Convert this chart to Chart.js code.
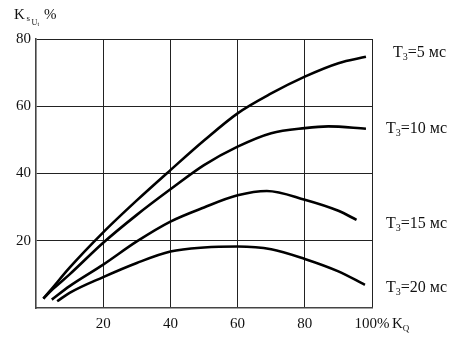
<!DOCTYPE html>
<html>
<head>
<meta charset="utf-8">
<script src="https://cdn.jsdelivr.net/npm/chart.js@4/dist/chart.umd.min.js"></script>
<style>
  html, body { margin: 0; padding: 0; background: #fff; }
  #wrap { width: 460px; height: 346px; position: relative; }
</style>
</head>
<body>
<div id="wrap"><canvas id="c" width="460" height="346"></canvas></div>
<script>
// Load factor K_Q, % (x) and coefficient K_sUt, % (y) for each time constant T3
const periodsMs = ['5', '10', '15', '20'];

const t5Q  = [2.2, 5, 10, 20, 30, 40, 50, 60, 70, 80, 90, 98.2];
const t5K  = [2.8, 6.1, 12, 22.5, 32, 41, 49.8, 57.9, 63.8, 68.8, 72.8, 74.7];

const t10Q = [2.2, 5, 10, 20, 30, 40, 50, 60, 70, 80, 87, 98.2];
const t10K = [2.8, 5.6, 10, 19.4, 27.7, 35.3, 42.5, 48, 52, 53.5, 54, 53.3];

const t15Q = [4.7, 10, 20, 30, 40, 50, 60, 68.7, 80, 90, 95.4];
const t15K = [2.5, 6.5, 12.9, 19.8, 25.7, 29.9, 33.5, 34.8, 32.2, 28.9, 26.2];

const t20Q = [6.3, 10, 20, 30, 40, 50, 60, 70, 80, 90, 97.9];
const t20K = [2.0, 4.5, 9.2, 13.4, 16.8, 18, 18.3, 17.5, 14.6, 10.9, 6.9];

const xTicks = [20, 40, 60, 80, 100];
const yTicks = [20, 40, 60, 80];

const serif = '"Liberation Serif", "Times New Roman", serif';

function pts(xs, ys) { return xs.map((x, i) => ({ x: x, y: ys[i] })); }

const curves = [pts(t5Q, t5K), pts(t10Q, t10K), pts(t15Q, t15K), pts(t20Q, t20K)];

// Labels on the right of each curve, positioned against the y scale
const labelY = [76, 53.5, 25.3, 6.3];

const textPlugin = {
  id: 'texts',
  afterDraw(chart) {
    const ctx = chart.ctx;
    const xs = chart.scales.x, ys = chart.scales.y;
    ctx.save();
    ctx.fillStyle = '#111';
    ctx.textBaseline = 'alphabetic';
    ctx.textAlign = 'left';

    // axis title K_sUt %
    ctx.font = '15px ' + serif;
    ctx.fillText('K', 14, 19);
    ctx.font = '9px ' + serif;
    ctx.fillText('s', 26.5, 21);
    ctx.font = '8px ' + serif;
    ctx.fillText('U', 31.5, 25);
    ctx.font = '6px ' + serif;
    ctx.fillText('t', 37.5, 26);
    ctx.font = '15px ' + serif;
    ctx.fillText('%', 44, 19);

    // K_Q after "100%"
    const bx = xs.getPixelForValue(100) + 20;
    const by = xs.top + 20;
    ctx.font = '15px ' + serif;
    ctx.fillText('K', bx, by);
    const kw = ctx.measureText('K').width;
    ctx.font = '9px ' + serif;
    ctx.fillText('Q', bx + kw, by + 3);

    // curve labels T3=… мс
    periodsMs.forEach((p, i) => {
      const x0 = i === 0 ? 393 : 386;
      const yb = ys.getPixelForValue(labelY[i]) + 5;
      ctx.font = '16px ' + serif;
      ctx.fillText('T', x0, yb);
      let x = x0 + ctx.measureText('T').width;
      ctx.font = '10px ' + serif;
      ctx.fillText('3', x, yb + 3);
      x += ctx.measureText('3').width;
      ctx.font = '16px ' + serif;
      ctx.fillText('=' + p + ' мс', x, yb);
    });
    ctx.restore();
  }
};

new Chart(document.getElementById('c'), {
  type: 'line',
  data: {
    datasets: curves.map((d, i) => ({
      label: 'T3=' + periodsMs[i] + ' мс',
      data: d,
      borderColor: '#000',
      borderWidth: 2.6,
      pointRadius: 0,
      fill: false,
      cubicInterpolationMode: 'monotone'
    }))
  },
  options: {
    responsive: false,
    animation: false,
    devicePixelRatio: 1,
    layout: { padding: { top: 39, right: 88, left: 0, bottom: 0 } },
    plugins: { legend: { display: false }, tooltip: { enabled: false } },
    scales: {
      x: {
        type: 'linear', min: 0, max: 100,
        afterBuildTicks(s) { s.ticks = xTicks.map(v => ({ value: v })); },
        afterFit(s) { s.height = 38; },
        grid: { color: '#222', lineWidth: 1, drawTicks: false },
        border: { color: '#444', width: 1.6 },
        ticks: {
          color: '#111', padding: 7,
          font: { family: serif, size: 15 },
          callback: v => v === 100 ? '100%' : String(v)
        }
      },
      y: {
        type: 'linear', min: 0, max: 80,
        afterBuildTicks(s) { s.ticks = yTicks.map(v => ({ value: v })); },
        afterFit(s) { s.width = 36; },
        grid: { color: '#222', lineWidth: 1, drawTicks: false },
        border: { color: '#444', width: 1.6 },
        ticks: {
          color: '#111', padding: 5,
          font: { family: serif, size: 15 },
          callback: v => String(v)
        }
      }
    }
  },
  plugins: [textPlugin]
});
</script>
</body>
</html>
